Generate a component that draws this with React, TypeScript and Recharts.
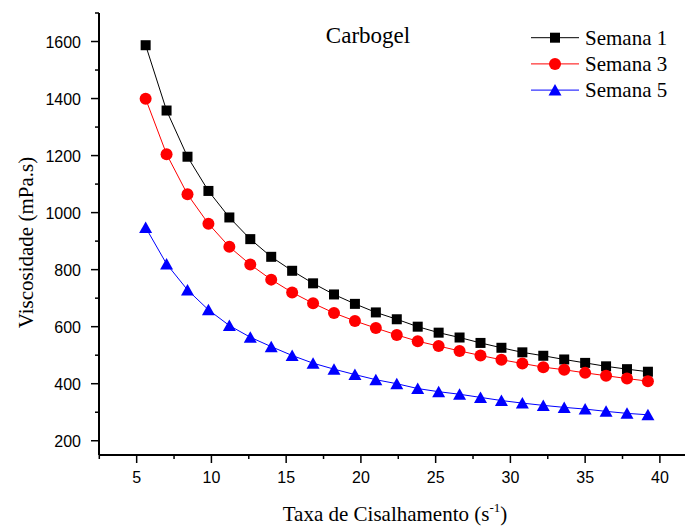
import { LineChart, Line, XAxis, YAxis, Legend } from "recharts";

// taxa de cisalhamento (s-1)
const shearRate = [
  5.6, 7.0, 8.4, 9.8, 11.2, 12.6, 14.0, 15.4, 16.8, 18.2, 19.6, 21.0, 22.4,
  23.8, 25.2, 26.6, 28.0, 29.4, 30.8, 32.2, 33.6, 35.0, 36.4, 37.8, 39.2
];

// viscosidade (mPa.s)
const semana1 = [
  1587, 1358, 1196, 1076, 983, 907, 845, 796, 752, 713, 680, 650, 626, 600,
  579, 562, 543, 526, 510, 498, 485, 473, 461, 451, 442
];
const semana3 = [
  1399, 1205, 1064, 961, 880, 818, 765, 720, 682, 648, 620, 595, 571, 549,
  532, 515, 499, 484, 471, 458, 449, 438, 428, 418, 409
];
const semana5 = [
  948, 820, 729, 659, 604, 563, 530, 499, 472, 451, 432, 414, 400, 383, 372,
  363, 352, 341, 332, 324, 317, 311, 303, 296, 291
];

const xTicks = [2.5, 5, 7.5, 10, 12.5, 15, 17.5, 20, 22.5, 25, 27.5, 30, 32.5, 35, 37.5, 40];
const xLabels = [5, 10, 15, 20, 25, 30, 35, 40];
const yTicks = [200, 300, 400, 500, 600, 700, 800, 900, 1000, 1100, 1200, 1300, 1400, 1500, 1600, 1700];
const yLabels = [200, 400, 600, 800, 1000, 1200, 1400, 1600];

const data = shearRate.map((x, i) => ({
  x,
  s1: semana1[i],
  s3: semana3[i],
  s5: semana5[i]
}));

const SANS = "'Liberation Sans', Arial, sans-serif";
const SERIF = "'Liberation Serif', 'Times New Roman', serif";

const Square = ({ cx, cy, color = "#000" }: any) => (
  <rect x={cx - 5} y={cy - 5} width={10} height={10} fill={color} />
);
const Circle = ({ cx, cy, color = "#ff0000" }: any) => (
  <circle cx={cx} cy={cy} r={6} fill={color} />
);
const Triangle = ({ cx, cy, color = "#0000ff" }: any) => (
  <polygon
    points={`${cx},${cy - 6} ${cx - 6.5},${cy + 5.5} ${cx + 6.5},${cy + 5.5}`}
    fill={color}
  />
);

const series = [
  { key: "s1", name: "Semana 1", color: "#000000", Marker: Square },
  { key: "s3", name: "Semana 3", color: "#ff0000", Marker: Circle },
  { key: "s5", name: "Semana 5", color: "#0000ff", Marker: Triangle }
];

const XTick = ({ x, y, payload }: any) => {
  const major = xLabels.includes(payload.value);
  return (
    <g>
      <line x1={x} x2={x} y1={y} y2={y + (major ? 8 : 4)} stroke="#000" strokeWidth={1.5} />
      {major && (
        <text x={x} y={y + 28} textAnchor="middle" fontSize={16} fontFamily={SANS} fill="#000">
          {payload.value}
        </text>
      )}
    </g>
  );
};

const TopTick = ({ x, y, payload }: any) => {
  const major = xLabels.includes(payload.value);
  return (
    <line x1={x} x2={x} y1={y} y2={y + (major ? 3 : 2)} stroke="#000" strokeWidth={1} />
  );
};

const YTick = ({ x, y, payload }: any) => {
  const major = yLabels.includes(payload.value);
  return (
    <g>
      <line x1={x - (major ? 8 : 4)} x2={x} y1={y} y2={y} stroke="#000" strokeWidth={1.5} />
      {major && (
        <text x={x - 18} y={y + 6} textAnchor="end" fontSize={16} fontFamily={SANS} fill="#000">
          {payload.value}
        </text>
      )}
    </g>
  );
};

const LegendBox = () => (
  <svg width={160} height={85}>
    {series.map((s, i) => {
      const y = 15.7 + i * 26.2;
      const M = s.Marker;
      return (
        <g key={s.key}>
          <line x1={6} x2={54} y1={y} y2={y} stroke={s.color} strokeWidth={1} />
          <M cx={30} cy={y} color={s.color} />
          <text x={60} y={y + 7} fontSize={21} fontFamily={SERIF} fill="#000">
            {s.name}
          </text>
        </g>
      );
    })}
  </svg>
);

export default function App() {
  return (
    <div style={{ position: "absolute", left: 0, top: 0, width: 685, height: 527 }}>
      <LineChart
        width={685}
        height={527}
        data={data}
        margin={{ top: 13, right: 0, bottom: 0, left: 0 }}
      >
        <XAxis
          dataKey="x"
          type="number"
          domain={[2.48, 41.68]}
          allowDataOverflow
          ticks={xTicks}
          interval={0}
          height={72}
          tickSize={0}
          tickMargin={0}
          tickLine={false}
          axisLine={{ stroke: "#000", strokeWidth: 2 }}
          tick={<XTick />}
        />
        <XAxis
          xAxisId="top"
          orientation="top"
          type="number"
          domain={[2.48, 41.68]}
          allowDataOverflow
          ticks={xTicks}
          interval={0}
          height={0}
          tickSize={0}
          tickMargin={0}
          tickLine={false}
          axisLine={{ stroke: "#000", strokeWidth: 1.5 }}
          tick={<TopTick />}
        />
        <YAxis
          type="number"
          domain={[150, 1700]}
          allowDataOverflow
          ticks={yTicks}
          interval={0}
          width={99}
          tickSize={0}
          tickMargin={0}
          tickLine={false}
          axisLine={{ stroke: "#000", strokeWidth: 2 }}
          tick={<YTick />}
        />
        <Legend
          layout="vertical"
          align="center"
          verticalAlign="middle"
          content={<LegendBox />}
          wrapperStyle={{ position: "absolute", left: 525, top: 22, width: 160, height: 85 }}
        />
        {series.map((s) => {
          const M = s.Marker;
          return (
            <Line
              key={s.key}
              dataKey={s.key}
              name={s.name}
              type="linear"
              stroke={s.color}
              strokeWidth={1}
              isAnimationActive={false}
              dot={(p: any) => <M key={`${s.key}-${p.index}`} cx={p.cx} cy={p.cy} color={s.color} />}
              activeDot={false}
            />
          );
        })}
      </LineChart>
      <svg
        width={685}
        height={527}
        style={{ position: "absolute", left: 0, top: 0, pointerEvents: "none" }}
      >
        <text x={368} y={43} textAnchor="middle" fontSize={23} fontFamily={SERIF} fill="#000">
          Carbogel
        </text>
        <text
          x={33}
          y={242.5}
          transform="rotate(-90 33 242.5)"
          textAnchor="middle"
          fontSize={21}
          fontFamily={SERIF}
          fill="#000"
        >
          Viscosidade (mPa.s)
        </text>
        <text x={395} y={521} textAnchor="middle" fontSize={21} fontFamily={SERIF} fill="#000">
          <tspan>Taxa de Cisalhamento (s</tspan>
          <tspan dy={-9} fontSize={13}>-1</tspan>
          <tspan dy={9}>)</tspan>
        </text>
      </svg>
    </div>
  );
}
